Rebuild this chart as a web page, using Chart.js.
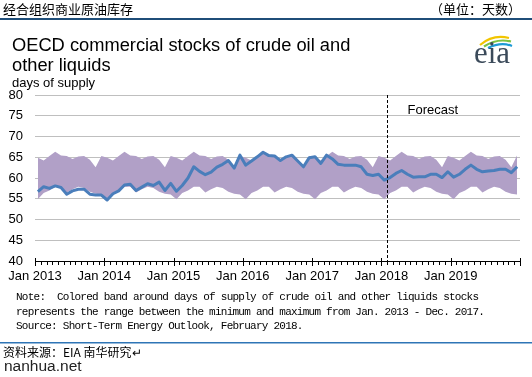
<!DOCTYPE html>
<html>
<head>
<meta charset="utf-8">
<script src="https://cdn.jsdelivr.net/npm/chart.js@4/dist/chart.umd.min.js"></script>
<style>
  html, body { margin: 0; padding: 0; background: #fff; }
  #wrap { position: relative; width: 532px; height: 377px; overflow: hidden; }
  #wrap canvas, #wrap svg { position: absolute; left: 0; top: 0; }
</style>
</head>
<body>
<div id="wrap">
  <canvas id="chart" width="532" height="377"></canvas>
  <svg width="532" height="377" xmlns="http://www.w3.org/2000/svg">
    <text x="3" y="14" font-family="Noto Sans CJK SC" font-size="13" fill="#000">经合组织商业原油库存</text>
    <text x="430" y="14" font-family="Noto Sans CJK SC" font-size="13" fill="#000">（单位：天数）</text>
    <rect x="0" y="18" width="532" height="2" fill="#1f4e79"/>

    <text x="12" y="51" font-family="Liberation Sans" font-size="18.3" fill="#000">OECD commercial stocks of crude oil and</text>
    <text x="12" y="71" font-family="Liberation Sans" font-size="18.3" fill="#000">other liquids</text>
    <text x="12" y="87" font-family="Liberation Sans" font-size="13" fill="#000">days of supply</text>

    <!-- eia logo -->
    <path d="M480 45 Q493 34 509 38" stroke="#f2c500" stroke-width="2.2" fill="none"/>
    <path d="M484 46.5 Q497 38 511 41.5" stroke="#7dc242" stroke-width="2.2" fill="none"/>
    <path d="M488 48 Q501 41.5 512 46" stroke="#1d9ad6" stroke-width="2.2" fill="none"/>
    <text x="474" y="63" font-family="Liberation Serif" font-size="31" fill="#3b4a5a" textLength="36" lengthAdjust="spacingAndGlyphs">eia</text>

    <g font-family="Liberation Mono" font-size="11" fill="#000" letter-spacing="-0.75">
      <text x="16" y="300" xml:space="preserve">Note:  Colored band around days of supply of crude oil and other liquids stocks</text>
      <text x="16" y="314.7" xml:space="preserve">represents the range between the minimum and maximum from Jan. 2013 - Dec. 2017.</text>
      <text x="16" y="329.4" xml:space="preserve">Source: Short-Term Energy Outlook, February 2018.</text>
    </g>

    <rect x="0" y="342" width="532" height="1.5" fill="#2e75b6"/>
    <text x="3" y="357" font-family="Noto Sans CJK SC" font-size="12" fill="#000">资料来源：EIA 南华研究↵</text>
    <text x="4" y="370.5" font-family="Liberation Sans" font-size="15.5" fill="#222">nanhua.net</text>
  </svg>
</div>
<script>
// monthly, Jan 2013 .. Dec 2019
const years = ['2013', '2014', '2015', '2016', '2017', '2018', '2019'];

// OECD commercial stocks, days of supply
const stocks = [
  56.7, 57.9, 57.5, 58.1, 57.7, 56.1, 56.9, 57.3, 57.3, 56.1, 55.9, 55.9,
  54.7, 56.2, 56.9, 58.3, 58.5, 57.0, 57.8, 58.6, 58.2, 59.0, 57.0, 58.7,
  56.8, 58.2, 60.0, 62.7, 61.6, 60.8, 61.4, 62.6, 63.3, 64.2, 62.4, 65.5,
  63.1, 64.1, 65.1, 66.2, 65.4, 65.3, 64.2, 65.1, 65.5, 64.1, 62.7, 64.9,
  65.1, 63.5, 65.5, 64.6, 63.3, 63.1, 63.1, 63.1, 62.7, 60.9, 60.6, 60.9,
  59.5, 60.1, 61.1, 61.8, 60.9, 60.2, 60.3, 60.3, 60.9, 60.9, 60.1, 61.5,
  60.2, 60.9, 62.1, 63.1, 62.1, 61.5, 61.7, 61.8, 62.1, 62.1, 61.3, 62.7
];

// band: max of Jan 2013 - Dec 2017 by month
const rangeMax = [
  64.9, 64.2, 65.3, 66.3, 65.4, 65.3, 64.6, 65.2, 65.3, 64.4, 62.6, 65.3,
  64.9, 64.2, 65.3, 66.3, 65.4, 65.3, 64.6, 65.2, 65.3, 64.4, 62.6, 65.3,
  64.9, 64.2, 65.3, 66.3, 65.4, 65.3, 64.6, 65.2, 65.3, 64.4, 62.6, 65.3,
  64.9, 64.2, 65.3, 66.3, 65.4, 65.3, 64.6, 65.2, 65.3, 64.4, 62.6, 65.3,
  64.9, 64.2, 65.3, 66.3, 65.4, 65.3, 64.6, 65.2, 65.3, 64.4, 62.6, 65.3,
  64.9, 64.2, 65.3, 66.3, 65.4, 65.3, 64.6, 65.2, 65.3, 64.4, 62.6, 65.3,
  64.9, 64.2, 65.3, 66.3, 65.4, 65.3, 64.6, 65.2, 65.3, 64.4, 62.6, 65.5
];

// band: min of Jan 2013 - Dec 2017 by month
const rangeMin = [
  54.9, 56.4, 57.0, 57.9, 57.9, 56.5, 57.3, 57.9, 57.6, 56.7, 56.2, 56.0,
  54.9, 56.4, 57.0, 57.9, 57.9, 56.5, 57.3, 57.9, 57.6, 56.7, 56.2, 56.0,
  54.9, 56.4, 57.0, 57.9, 57.9, 56.5, 57.3, 57.9, 57.6, 56.7, 56.2, 56.0,
  54.9, 56.4, 57.0, 57.9, 57.9, 56.5, 57.3, 57.9, 57.6, 56.7, 56.2, 56.0,
  54.9, 56.4, 57.0, 57.9, 57.9, 56.5, 57.3, 57.9, 57.6, 56.7, 56.2, 56.0,
  54.9, 56.4, 57.0, 57.9, 57.9, 56.5, 57.3, 57.9, 57.6, 56.7, 56.2, 56.0,
  54.9, 56.4, 57.0, 57.9, 57.9, 56.5, 57.3, 57.9, 57.6, 56.7, 56.2, 56.0
];

const yMin = 40, yMax = 80, yStep = 5;
const forecastStart = 61; // months after Jan 2013

const monthCount = years.length * 12;
// each value sits in the middle of its month
const toPoints = arr => arr.map((v, i) => ({ x: i + 0.5, y: v }));

const axisDecor = {
  id: 'axisDecor',
  afterDraw(chart) {
    const { ctx, chartArea: a, scales: { x } } = chart;
    ctx.save();
    ctx.strokeStyle = '#000';
    ctx.lineWidth = 1;
    ctx.beginPath();
    for (let m = 0; m <= monthCount; m++) {
      const px = Math.round(x.getPixelForValue(m)) + 0.5;
      const major = m % 12 === 0;
      ctx.moveTo(px, a.bottom - (major ? 3 : 0));
      ctx.lineTo(px, a.bottom + (major ? 5 : 4));
    }
    ctx.stroke();

    // forecast divider
    const fx = Math.round(x.getPixelForValue(forecastStart)) + 0.5;
    ctx.setLineDash([3, 2]);
    ctx.beginPath();
    ctx.moveTo(fx, a.top);
    ctx.lineTo(fx, a.bottom + 4);
    ctx.stroke();
    ctx.setLineDash([]);
    ctx.fillStyle = '#000';
    ctx.font = '13px "Liberation Sans"';
    ctx.textBaseline = 'alphabetic';
    ctx.fillText('Forecast', fx + 20, a.top + 19);
    ctx.restore();
  }
};

new Chart(document.getElementById('chart'), {
  type: 'line',
  data: {
    datasets: [
      {
        label: 'stocks',
        data: toPoints(stocks),
        borderColor: '#4a7ebb',
        borderWidth: 3,
        borderJoinStyle: 'round',
        pointRadius: 0,
        fill: false
      },
      {
        label: 'max',
        data: toPoints(rangeMax),
        borderColor: 'transparent',
        borderWidth: 0,
        pointRadius: 0,
        backgroundColor: '#b1a0c7',
        fill: '+1'
      },
      {
        label: 'min',
        data: toPoints(rangeMin),
        borderColor: 'transparent',
        borderWidth: 0,
        pointRadius: 0,
        fill: false
      }
    ]
  },
  options: {
    responsive: false,
    animation: false,
    devicePixelRatio: 1,
    layout: { padding: { left: 0, right: 12, top: 95, bottom: 76 } },
    plugins: { legend: { display: false }, tooltip: { enabled: false } },
    scales: {
      x: {
        type: 'linear',
        min: 0,
        max: monthCount,
        afterBuildTicks: s => { s.ticks = years.map((y, k) => ({ value: k * 12 })).concat([{ value: monthCount }]); },
        afterFit: s => { s.height = 40; },
        grid: { display: false },
        border: { display: true, color: '#000', width: 1 },
        ticks: {
          autoSkip: false,
          maxRotation: 0,
          padding: 0,
          color: '#000',
          font: { family: 'Liberation Sans', size: 13 },
          callback: v => (v < monthCount ? 'Jan ' + years[v / 12] : '')
        }
      },
      y: {
        min: yMin,
        max: yMax,
        afterFit: s => { s.width = 35; },
        grid: {
          color: c => (c.tick && c.tick.value === yMin ? '#000' : '#bfbfbf'),
          drawTicks: false
        },
        border: { display: false },
        ticks: {
          stepSize: yStep,
          padding: 12,
          color: '#000',
          font: { family: 'Liberation Sans', size: 13 }
        }
      }
    }
  },
  plugins: [axisDecor]
});
</script>
</body>
</html>
